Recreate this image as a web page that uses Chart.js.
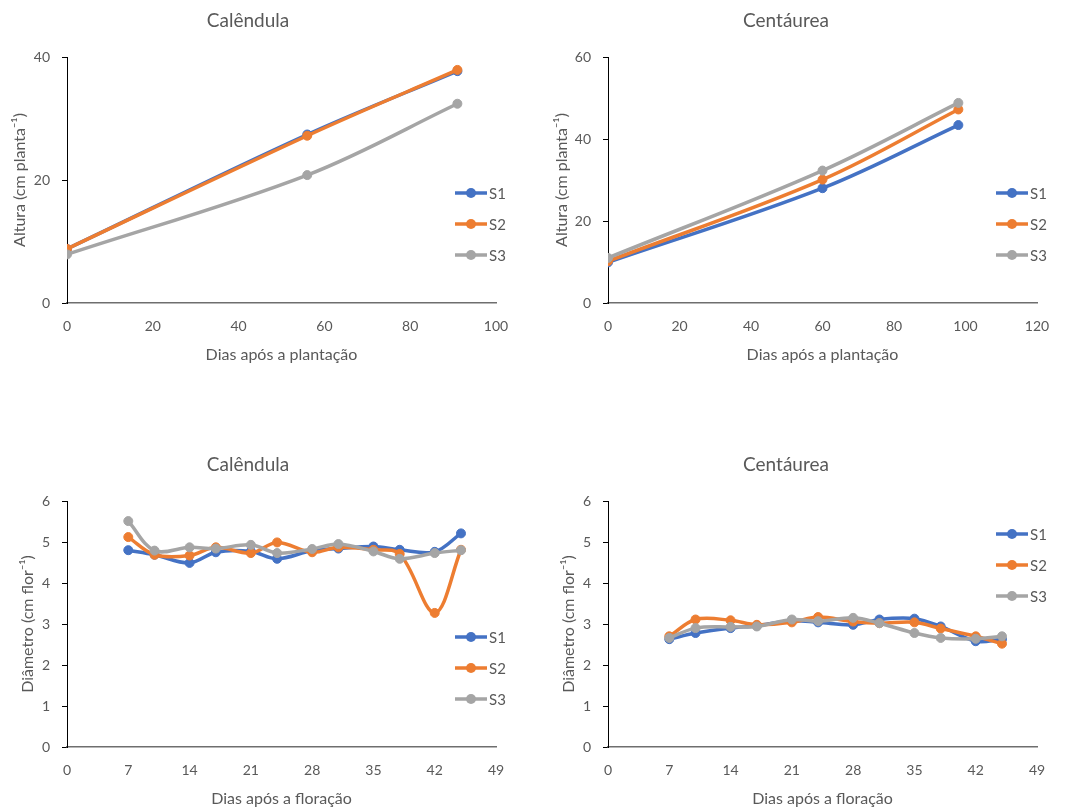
<!DOCTYPE html>
<html>
<head>
<meta charset="utf-8">
<script src="https://cdn.jsdelivr.net/npm/chart.js@4"></script>
<style>
  body { margin: 0; background: #fff; }
  .box { position: absolute; width: 535px; height: 370px; }
</style>
</head>
<body>
<div class="box" style="left:0;top:0"><canvas id="altCal" width="535" height="370"></canvas></div>
<div class="box" style="left:535px;top:0"><canvas id="altCen" width="535" height="370"></canvas></div>
<div class="box" style="left:0;top:444px"><canvas id="diaCal" width="535" height="370"></canvas></div>
<div class="box" style="left:535px;top:444px"><canvas id="diaCen" width="535" height="370"></canvas></div>
<script>
// dados: altura das plantas
var dias_plantacao_cal = [0, 56, 91]
var altura_cal_s1 = [8.8, 27.4, 37.7]
var altura_cal_s2 = [8.8, 27.2, 37.9]
var altura_cal_s3 = [7.9, 20.8, 32.4]

var dias_plantacao_cen = [0, 60, 98]
var altura_cen_s1 = [9.9, 28.0, 43.4]
var altura_cen_s2 = [10.2, 30.1, 47.2]
var altura_cen_s3 = [11.0, 32.3, 48.8]

// dados: diâmetro das flores
var dias_floracao = [7, 10, 14, 17, 21, 24, 28, 31, 35, 38, 42, 45]
var diam_cal_s1 = [4.80, 4.69, 4.49, 4.75, 4.77, 4.59, 4.79, 4.84, 4.89, 4.81, 4.76, 5.21]
var diam_cal_s2 = [5.12, 4.69, 4.67, 4.87, 4.73, 4.99, 4.75, 4.87, 4.81, 4.71, 3.27, 4.81]
var diam_cal_s3 = [5.51, 4.79, 4.87, 4.84, 4.93, 4.73, 4.83, 4.95, 4.77, 4.59, 4.73, 4.80]
var diam_cen_s1 = [2.63, 2.78, 2.90, 2.96, 3.08, 3.04, 2.98, 3.11, 3.13, 2.94, 2.58, 2.63]
var diam_cen_s2 = [2.70, 3.11, 3.09, 2.98, 3.04, 3.17, 3.06, 3.02, 3.04, 2.89, 2.70, 2.52]
var diam_cen_s3 = [2.66, 2.90, 2.93, 2.94, 3.11, 3.07, 3.15, 3.02, 2.78, 2.66, 2.64, 2.70]

var series_labels = ["S1", "S2", "S3"]
var series_colors = ["#4472C4", "#ED7D31", "#A5A5A5"]

var cor_texto = "#595959"
Chart.defaults.font.family = "Lato, 'Open Sans', sans-serif"
Chart.defaults.font.size = 14
Chart.defaults.color = cor_texto

// legenda desenhada dentro da área, à direita (estilo Excel)
var legendaLateral = {
  id: "legendaLateral",
  afterDatasetsDraw: function (chart, args, opts) {
    var ctx = chart.ctx
    ctx.save()
    ctx.font = "15px Lato, 'Open Sans', sans-serif"
    ctx.textBaseline = "middle"
    ctx.textAlign = "left"
    series_labels.forEach(function (nome, i) {
      var y = opts.y + i * opts.gap
      var cor = series_colors[i]
      ctx.strokeStyle = cor
      ctx.lineWidth = 3.5
      ctx.beginPath()
      ctx.moveTo(opts.x, y)
      ctx.lineTo(opts.x + 32, y)
      ctx.stroke()
      ctx.fillStyle = cor
      ctx.beginPath()
      ctx.arc(opts.x + 16, y, 5, 0, Math.PI * 2)
      ctx.fill()
      ctx.fillStyle = cor_texto
      ctx.fillText(nome, opts.x + 34, y + 1)
    })
    ctx.restore()
  },
}

function pares(xs, ys) {
  return xs.map(function (x, i) {
    return { x: x, y: ys[i] }
  })
}

function criarGrafico(id, titulo, xs, series, eixo) {
  var datasets = series.map(function (ys, i) {
    return {
      label: series_labels[i],
      data: pares(xs, ys),
      borderColor: series_colors[i],
      backgroundColor: series_colors[i],
      borderWidth: 3.5,
      pointRadius: 4.5,
      pointBorderWidth: 1,
      tension: 0.35,
      order: 3 - i,
    }
  })
  return new Chart(document.getElementById(id), {
    type: "line",
    plugins: [legendaLateral],
    data: { datasets: datasets },
    options: {
      responsive: false,
      animation: false,
      layout: { padding: { left: 0, right: eixo.direita, top: 0, bottom: 0 } },
      scales: {
        x: {
          type: "linear",
          min: 0,
          max: eixo.xMax,
          ticks: { stepSize: eixo.xPasso, padding: 15, color: cor_texto },
          grid: { display: false, drawTicks: false },
          border: { display: true, color: "#6e6e6e", width: 1.5 },
          title: { display: true, text: eixo.xTitulo, color: cor_texto, font: { size: 16 }, padding: { top: 0, bottom: 6 } },
          afterFit: function (scale) {
            scale.height = 67
          },
        },
        y: {
          min: 0,
          max: eixo.yMax,
          ticks: { stepSize: eixo.yPasso, padding: 12, color: cor_texto },
          grid: { display: true, drawOnChartArea: false, drawTicks: true, tickLength: 5, color: "#000" },
          border: { display: true, color: "#000", width: 1 },
          title: { display: true, text: eixo.yTitulo, color: cor_texto, font: { size: 16 }, padding: { top: eixo.yTituloPad, bottom: 0 } },
          afterFit: function (scale) {
            scale.width = eixo.esquerda
          },
        },
      },
      plugins: {
        legend: { display: false },
        tooltip: { enabled: false },
        title: {
          display: true,
          text: titulo,
          color: cor_texto,
          font: { size: 19, weight: "normal" },
          padding: { top: 9, bottom: 25.2 },
        },
        legendaLateral: { x: eixo.legX, y: eixo.legY, gap: 31 },
      },
    },
  })
}

criarGrafico("altCal", "Calêndula", dias_plantacao_cal, [altura_cal_s1, altura_cal_s2, altura_cal_s3], {
  xMax: 100, xPasso: 20, yMax: 40, yPasso: 20,
  xTitulo: "Dias após a plantação", yTitulo: "Altura (cm planta⁻¹)",
  esquerda: 67, direita: 39, yTituloPad: 10, legX: 455, legY: 193,
})

criarGrafico("altCen", "Centáurea", dias_plantacao_cen, [altura_cen_s1, altura_cen_s2, altura_cen_s3], {
  xMax: 120, xPasso: 20, yMax: 60, yPasso: 20,
  xTitulo: "Dias após a plantação", yTitulo: "Altura (cm planta⁻¹)",
  esquerda: 73, direita: 33, yTituloPad: 17, legX: 461, legY: 193,
})

criarGrafico("diaCal", "Calêndula", dias_floracao, [diam_cal_s1, diam_cal_s2, diam_cal_s3], {
  xMax: 49, xPasso: 7, yMax: 6, yPasso: 1,
  xTitulo: "Dias após a floração", yTitulo: "Diâmetro (cm flor⁻¹)",
  esquerda: 67, direita: 39, yTituloPad: 18, legX: 455, legY: 193,
})

criarGrafico("diaCen", "Centáurea", dias_floracao, [diam_cen_s1, diam_cen_s2, diam_cen_s3], {
  xMax: 49, xPasso: 7, yMax: 6, yPasso: 1,
  xTitulo: "Dias após a floração", yTitulo: "Diâmetro (cm flor⁻¹)",
  esquerda: 73, direita: 33, yTituloPad: 24, legX: 461, legY: 90,
})
</script>
</body>
</html>
